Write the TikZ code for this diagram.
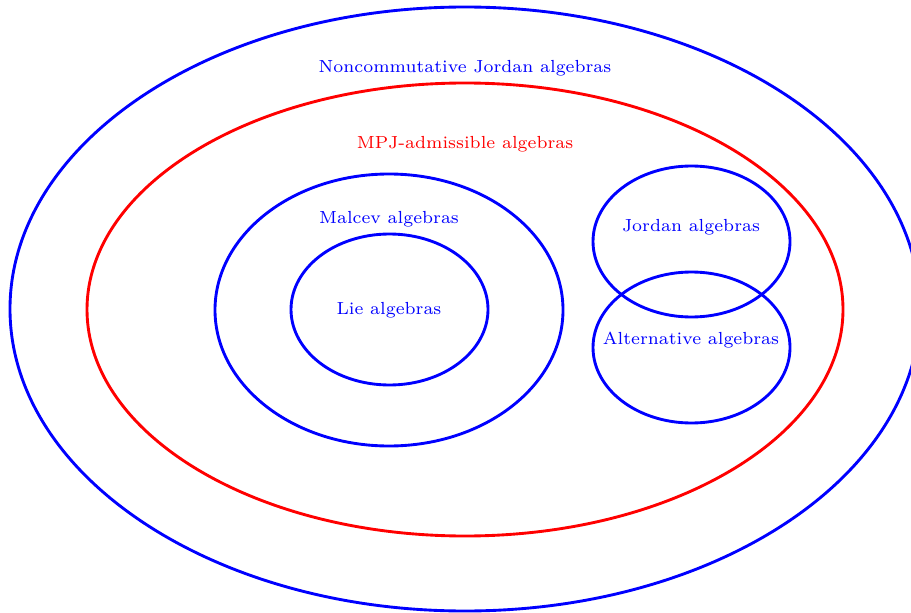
\documentclass[tikz,border=0pt]{standalone}
\begin{document}
\begin{tikzpicture}[x=0.4pt,y=-0.4pt,
  ring/.style={line width=1.15pt},
  lbl/.style={font=\scriptsize,inner sep=1pt}]
\useasboundingbox (0,0) rectangle (911,612);
\clip (0,0) rectangle (911,612);
\draw[ring,blue] (465,309) ellipse [x radius=455, y radius=302];
\draw[ring,red] (465,309.5) ellipse [x radius=378, y radius=226.5];
\draw[ring,blue] (389,310) ellipse [x radius=174, y radius=136];
\draw[ring,blue] (389.5,309.5) ellipse [x radius=98.5, y radius=75.5];
\draw[ring,blue] (691.5,241.5) ellipse [x radius=98.5, y radius=75.5];
\draw[ring,blue] (691.5,347.5) ellipse [x radius=98.5, y radius=75.5];
\node[lbl,text=blue] (nj) at (465,68) {Noncommutative Jordan algebras};
\node[lbl,text=red] (mpj) at (465,144) {MPJ-admissible algebras};
\node[lbl,text=blue] (mal) at (389,219) {Malcev algebras};
\node[lbl,text=blue] (lie) at (389,310) {Lie algebras};
\node[lbl,text=blue] (jor) at (691,227) {Jordan algebras};
\node[lbl,text=blue] (alt) at (691,340) {Alternative algebras};
\end{tikzpicture}
\end{document}
